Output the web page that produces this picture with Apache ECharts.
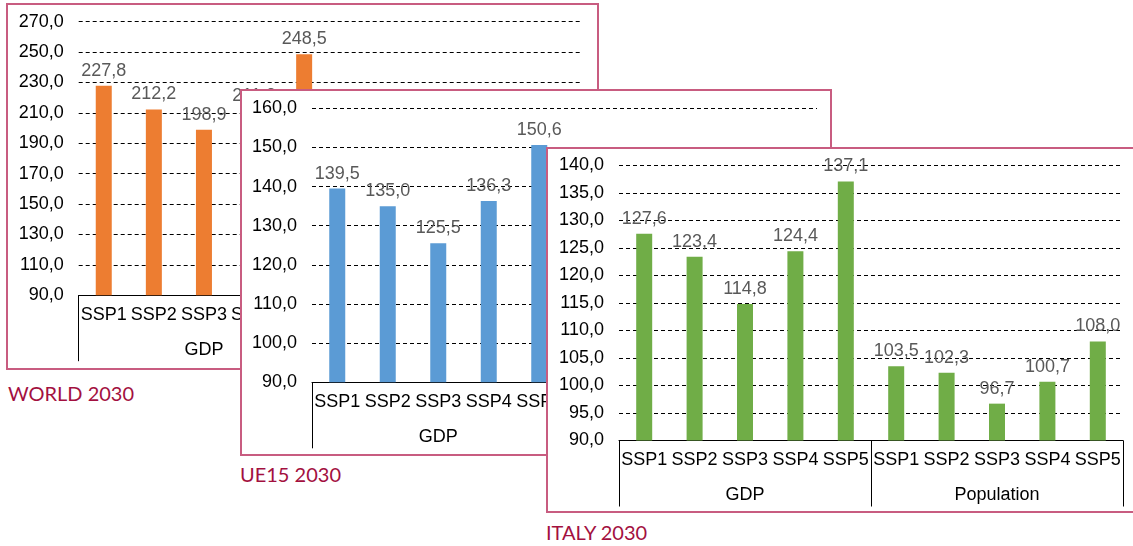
<!DOCTYPE html>
<html>
<head>
<meta charset="utf-8">
<script src="https://cdn.jsdelivr.net/npm/echarts@6/dist/echarts.min.js"></script>
<style>
  html, body { margin: 0; padding: 0; background: #fff; width: 1133px; height: 546px; overflow: hidden; position: relative; }
  .panel { position: absolute; box-sizing: border-box; border: 2px solid #c85c80; background: #fff; }
  .caption { position: absolute; font-family: Lato, "Open Sans", sans-serif; font-size: 20px; line-height: 24px; color: #a3103f; white-space: nowrap; }
</style>
</head>
<body>
<div id="world" class="panel" style="left:6px;top:3px;width:593px;height:367px"></div>
<div class="caption" style="left:8px;top:381px">WORLD 2030</div>
<div id="ue15" class="panel" style="left:240px;top:89px;width:592px;height:367px"></div>
<div class="caption" style="left:240px;top:462px">UE15 2030</div>
<div id="italy" class="panel" style="left:546px;top:147px;width:600px;height:366px"></div>
<div class="caption" style="left:546px;top:520px">ITALY 2030</div>
<script>
// categories
const scenarios = ['SSP1', 'SSP2', 'SSP3', 'SSP4', 'SSP5']
const groups = ['GDP', 'Population']

// values (index 2010 = 100); population of WORLD and UE15 is hidden behind the other panels
const worldGdp = [227.8, 212.2, 198.9, 211.3, 248.5]
const worldPop = [null, null, null, null, null]
const ue15Gdp = [139.5, 135.0, 125.5, 136.3, 150.6]
const ue15Pop = [null, null, null, null, null]
const italyGdp = [127.6, 123.4, 114.8, 124.4, 137.1]
const italyPop = [103.5, 102.3, 96.7, 100.7, 108.0]

// y axis ranges
const worldAxis = { min: 90, max: 270, interval: 20 }
const ue15Axis = { min: 90, max: 160, interval: 10 }
const italyAxis = { min: 90, max: 140, interval: 5 }

const FONT = '"Liberation Sans", Arial, sans-serif'
const comma = v => v.toFixed(1).replace('.', ',')

function buildOption (cfg) {
  return {
    animation: false,
    grid: cfg.grid,
    xAxis: [{
      type: 'category',
      data: scenarios.concat(scenarios),
      axisLine: { lineStyle: { color: '#000', width: 1 } },
      axisTick: { show: false },
      axisLabel: { interval: 0, margin: 11, fontSize: 18, color: '#000', fontFamily: FONT }
    }, {
      type: 'category',
      data: groups,
      position: 'bottom',
      axisLine: { show: false },
      axisTick: { show: true, length: 66, lineStyle: { color: '#000', width: 1 } },
      axisLabel: { interval: 0, margin: 46, fontSize: 18, color: '#000', fontFamily: FONT },
      splitLine: { show: false }
    }],
    yAxis: {
      type: 'value',
      min: cfg.axis.min,
      max: cfg.axis.max,
      interval: cfg.axis.interval,
      axisLine: { show: false },
      axisTick: { show: false },
      axisLabel: {
        margin: 15,
        fontSize: 18,
        color: '#000',
        fontFamily: FONT,
        formatter: v => comma(v)
      },
      splitLine: { lineStyle: { color: '#000', width: 1, type: [4, 3] } }
    },
    series: [{
      type: 'bar',
      xAxisIndex: 0,
      barWidth: 16,
      data: cfg.gdp.concat(cfg.pop),
      itemStyle: { color: cfg.color },
      label: {
        show: true,
        position: 'top',
        distance: 6,
        fontSize: 18,
        color: '#595959',
        fontFamily: FONT,
        formatter: p => (p.value == null ? '' : comma(p.value))
      }
    }]
  }
}

echarts.init(document.getElementById('world')).setOption(buildOption({
  grid: { left: 70.7, top: 16.7, width: 501, height: 273.5 },
  axis: worldAxis,
  gdp: worldGdp,
  pop: worldPop,
  color: '#ed7d31'
}))

echarts.init(document.getElementById('ue15')).setOption(buildOption({
  grid: { left: 70, top: 17.3, width: 505, height: 274 },
  axis: ue15Axis,
  gdp: ue15Gdp,
  pop: ue15Pop,
  color: '#5b9bd5'
}))

echarts.init(document.getElementById('italy')).setOption(buildOption({
  grid: { left: 71, top: 16.5, width: 504, height: 275 },
  axis: italyAxis,
  gdp: italyGdp,
  pop: italyPop,
  color: '#70ad47'
}))
</script>
</body>
</html>
